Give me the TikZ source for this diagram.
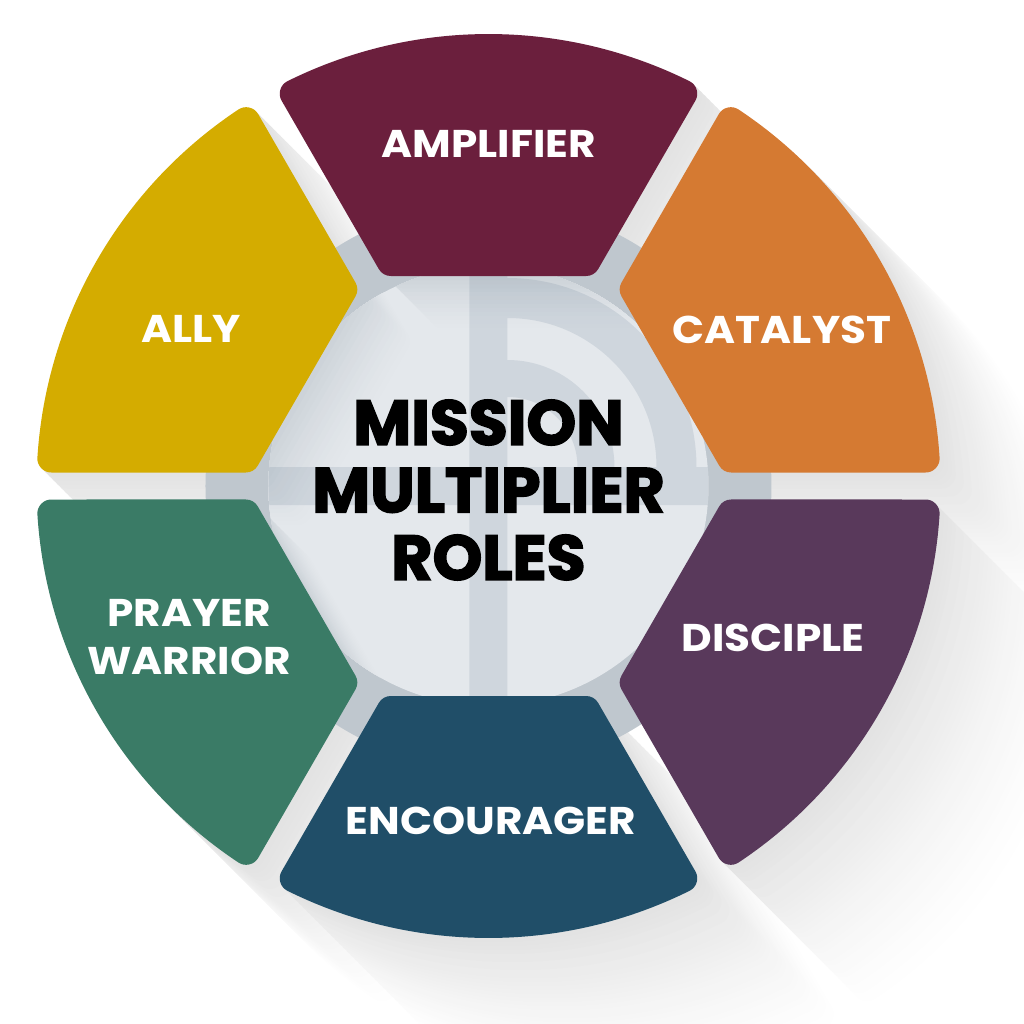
\documentclass[tikz,border=0pt]{standalone}
\usepackage{fontspec}
\setmainfont{Poppins}
\newfontfamily\titlefont{Poppins}[BoldFeatures={FakeBold=2.5}]
\newfontfamily\labelfont{Poppins}[BoldFeatures={FakeStretch=1.09}]
\definecolor{amplifier}{HTML}{6B1F3D}
\definecolor{catalyst}{HTML}{D57A32}
\definecolor{disciple}{HTML}{59395B}
\definecolor{encourager}{HTML}{204E68}
\definecolor{prayer}{HTML}{3A7B66}
\definecolor{ally}{HTML}{D4AC00}
\definecolor{hubring}{HTML}{BFC7CE}
\definecolor{hublight}{HTML}{E4E8EC}
\definecolor{hubshade}{HTML}{CBD1D7}
\definecolor{hubband}{HTML}{3D5A77}
\definecolor{dropshade}{HTML}{E2E2E2}
\newcommand{\segpath}{(-0.976,2.24) -- (0.976,2.24) -- (63.6:4.38) arc[start angle=63.6, end angle=116.4, radius=4.38] -- cycle}
\tikzset{
  segment/.style={fill=#1, draw=#1, line width=0.28cm, line join=round},
  rolelabel/.style={text=white, font=\labelfont\bfseries\fontsize{11}{13.6}\selectfont, align=center, inner sep=0pt},
}

\begin{document}
\begin{tikzpicture}

\useasboundingbox (-4.885,-5.38) rectangle (5.355,4.86);
\fill[white] (-4.885,-5.38) rectangle (5.355,4.86);

\foreach \k [evaluate=\k as \c using {int(100*(1-\k/37)^1.4)}] in {36,...,1}
{
\begin{scope}[shift={(0.04*\k,-0.04*\k)}]
\foreach \a in {0,60,...,300}
\filldraw[segment=dropshade!\c!white, rotate=\a] \segpath;
\end{scope}
}

\fill[hubring] (0,0) circle (2.83);
\fill[hublight] (0,0) circle (2.2);

\begin{scope}
\clip (0,0) circle (2.2);
\foreach \k [evaluate=\k as \c using {int(100*(1-\k/15)^1.5)}] in {14,...,1}
{
\begin{scope}[shift={(0.04*\k,-0.04*\k)}]
\foreach \a in {0,60,...,300}
\filldraw[segment=hubshade!\c!hublight, rotate=\a] \segpath;
\end{scope}
}
\fill[hubband, opacity=0.12]
  (-0.19,-2.2) rectangle (0.19,2.2)
  (-2.2,-0.19) rectangle (2.2,0.19)
  (1.68,0.19) arc[start angle=0, end angle=90, radius=1.49] -- (0.19,2.08)
  arc[start angle=90, end angle=0, radius=1.89] -- cycle
  (0.89,0.19) arc[start angle=0, end angle=90, radius=0.70] -- (0.19,1.26)
  arc[start angle=90, end angle=0, radius=1.07] -- cycle;
\end{scope}

\filldraw[segment=amplifier] \segpath;
\filldraw[segment=ally, rotate=60] \segpath;
\filldraw[segment=prayer, rotate=120] \segpath;
\filldraw[segment=encourager, rotate=180] \segpath;
\filldraw[segment=disciple, rotate=240] \segpath;
\filldraw[segment=catalyst, rotate=300] \segpath;

\node[rolelabel] (amplifier) at (0.005,3.42) {AMPLIFIER};
\node[rolelabel] (catalyst) at (2.935,1.56) {CATALYST};
\node[rolelabel] (disciple) at (2.845,-1.52) {DISCIPLE};
\node[rolelabel] (encourager) at (0.025,-3.35) {ENCOURAGER};
\node[rolelabel] (prayer) at (-2.995,-1.51) {PRAYER\\WARRIOR};
\node[rolelabel] (ally) at (-2.975,1.57) {ALLY};

\node[font=\titlefont\bfseries\fontsize{18}{19.2}\selectfont, align=center, inner sep=0pt] (title) at (0,-0.04) {MISSION\\MULTIPLIER\\ROLES};

\end{tikzpicture}
\end{document}
